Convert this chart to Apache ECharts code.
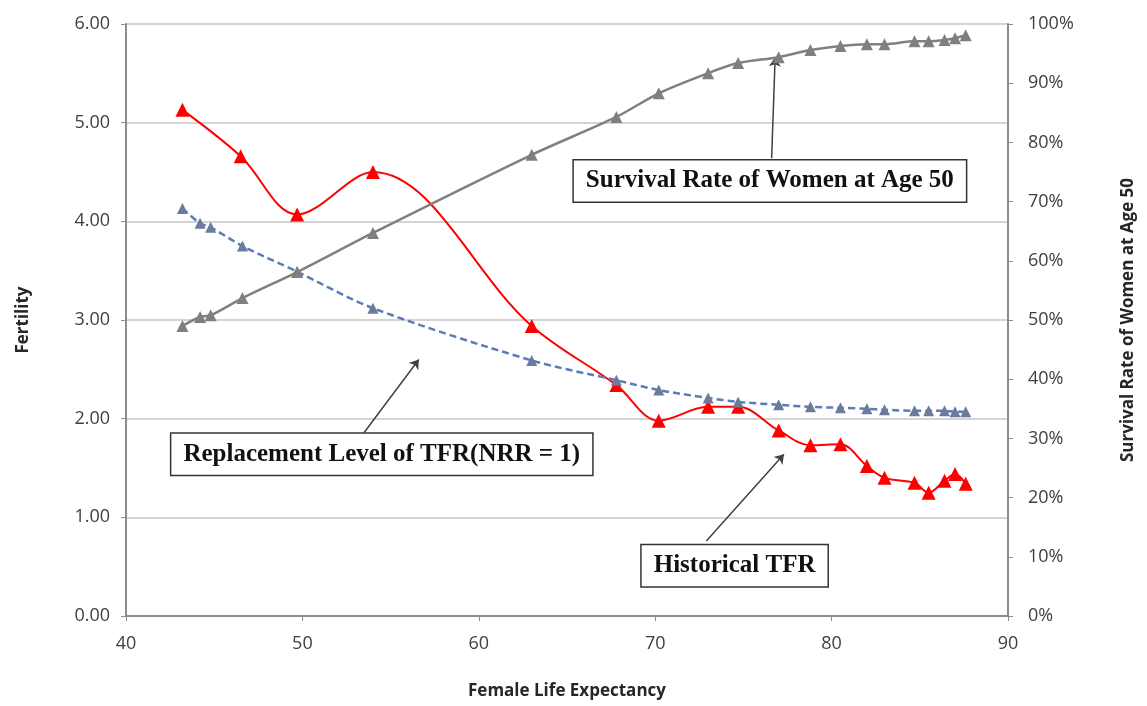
<!DOCTYPE html>
<html>
<head>
<meta charset="utf-8">
<script src="https://cdn.jsdelivr.net/npm/echarts@6/dist/echarts.min.js"></script>
<style>
  html, body { margin: 0; padding: 0; background: #fff; }
  #chart { width: 1147px; height: 706px; }
</style>
</head>
<body>
<div id="chart"></div>
<script>
// historical TFR (left axis)
const tfrX = [43.2, 46.5, 49.7, 54.0, 63.0, 67.8, 70.2, 73.0, 74.7, 77.0, 78.8, 80.5, 82.0, 83.0, 84.7, 85.5, 86.4, 87.0, 87.6];
const tfr = [5.13, 4.66, 4.07, 4.50, 2.94, 2.34, 1.98, 2.12, 2.12, 1.88, 1.73, 1.74, 1.52, 1.40, 1.35, 1.25, 1.37, 1.44, 1.34];

// replacement level TFR (left axis) and survival rate (right axis)
const lifeX = [43.2, 44.2, 44.8, 46.6, 49.7, 54.0, 63.0, 67.8, 70.2, 73.0, 74.7, 77.0, 78.8, 80.5, 82.0, 83.0, 84.7, 85.5, 86.4, 87.0, 87.6];
const replacement = [4.13, 3.98, 3.94, 3.75, 3.49, 3.12, 2.59, 2.39, 2.29, 2.21, 2.17, 2.14, 2.12, 2.11, 2.10, 2.09, 2.08, 2.08, 2.08, 2.07, 2.07];
const survival = [49.0, 50.5, 50.8, 53.7, 58.1, 64.7, 77.9, 84.3, 88.3, 91.7, 93.4, 94.4, 95.6, 96.3, 96.6, 96.6, 97.1, 97.1, 97.3, 97.6, 98.1];

const pairs = (xs, ys) => xs.map((x, i) => [x, ys[i]]);

const axisFont = { color: '#404040', fontSize: 18, fontFamily: 'Open Sans' };
const nameFont = { color: '#262626', fontSize: 17, fontWeight: 'bold', fontFamily: 'Open Sans' };
const boxLabel = {
  show: true,
  position: 'inside',
  color: '#111',
  fontFamily: 'Liberation Serif',
  fontWeight: 'bold',
  fontSize: 25,
  backgroundColor: '#fff',
  borderColor: '#333',
  borderWidth: 1.5,
  padding: [9, 12, 7, 12]
};

const myChart = echarts.init(document.getElementById('chart'));
const option = {
  animation: false,
  grid: { left: 126, right: 139, top: 24, bottom: 90 },
  xAxis: {
    type: 'value', min: 40, max: 90, interval: 10,
    name: 'Female Life Expectancy', nameLocation: 'middle', nameGap: 67,
    nameTextStyle: nameFont,
    axisLine: { lineStyle: { color: '#8c8c8c', width: 2 } },
    axisTick: { show: true, length: 5, lineStyle: { color: '#8c8c8c' } },
    axisLabel: { ...axisFont, margin: 19 },
    splitLine: { show: false }
  },
  yAxis: [
    {
      type: 'value', min: 0, max: 6, interval: 1,
      name: 'Fertility', nameLocation: 'middle', nameGap: 94,
      nameTextStyle: nameFont,
      axisLine: { show: true, lineStyle: { color: '#8c8c8c', width: 2 } },
      axisTick: { show: true, length: 5, lineStyle: { color: '#8c8c8c' } },
      axisLabel: { ...axisFont, margin: 16, formatter: v => v.toFixed(2) },
      splitLine: { lineStyle: { color: '#d4d4d4', width: 2 } }
    },
    {
      type: 'value', min: 0, max: 100, interval: 10,
      name: 'Survival Rate of Women at Age 50', nameLocation: 'middle', nameGap: 112, nameRotate: 90,
      nameTextStyle: nameFont,
      axisLine: { show: true, lineStyle: { color: '#8c8c8c', width: 2 } },
      axisTick: { show: true, length: 5, lineStyle: { color: '#8c8c8c' } },
      axisLabel: { ...axisFont, margin: 20, formatter: '{value}%' },
      splitLine: { show: false }
    }
  ],
  series: [
    {
      name: 'Historical TFR',
      type: 'line',
      data: pairs(tfrX, tfr),
      smooth: 0.35,
      symbol: 'triangle', symbolSize: 14,
      lineStyle: { color: '#ff0000', width: 2 },
      itemStyle: { color: '#ff0000' },
      z: 3,
      markPoint: {
        symbol: 'rect', symbolSize: 0,
        data: [
          { coord: [76.5, 4.41], label: { ...boxLabel, formatter: 'Survival Rate of Women at Age 50' } },
          { coord: [54.5, 1.64], label: { ...boxLabel, formatter: 'Replacement Level of TFR(NRR = 1)' } },
          { coord: [74.5, 0.51], label: { ...boxLabel, formatter: 'Historical TFR' } }
        ]
      },
      markLine: {
        silent: true,
        symbol: ['none', 'arrow'],
        symbolSize: 9,
        label: { show: false },
        lineStyle: { color: '#404040', width: 1.5, type: 'solid' },
        data: [
          [{ coord: [76.6, 4.64] }, { coord: [76.8, 5.66] }],
          [{ coord: [53.5, 1.86] }, { coord: [56.6, 2.60] }],
          [{ coord: [72.9, 0.76] }, { coord: [77.3, 1.64] }]
        ]
      }
    },
    {
      name: 'Replacement Level of TFR',
      type: 'line',
      data: pairs(lifeX, replacement),
      smooth: 0.3,
      symbol: 'triangle', symbolSize: 11,
      lineStyle: { color: '#5b7cb8', width: 2.5, type: [7, 4] },
      itemStyle: { color: '#6b7b9b' },
      z: 4
    },
    {
      name: 'Survival Rate',
      type: 'line',
      yAxisIndex: 1,
      data: pairs(lifeX, survival),
      smooth: 0.3,
      symbol: 'triangle', symbolSize: 12,
      lineStyle: { color: '#808080', width: 2.5 },
      itemStyle: { color: '#7f7f7f' },
      z: 5
    }
  ]
};
myChart.setOption(option);
</script>
</body>
</html>
